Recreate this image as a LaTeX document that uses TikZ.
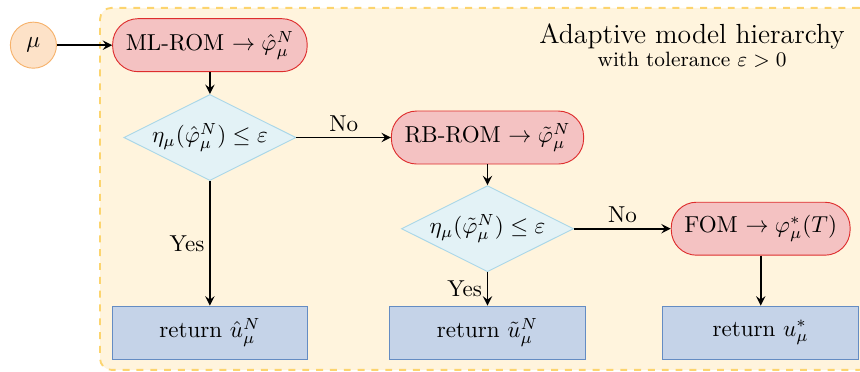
\documentclass[tikz,border=0pt]{standalone}
\usepackage{amsmath,amssymb}
\usepackage{xcolor}
\usepackage{tikz}
\usetikzlibrary{shapes.geometric, arrows, positioning, calc, fit, backgrounds}
\definecolor{inputorange}{RGB}{246, 178, 107}
\definecolor{inputfill}{RGB}{253, 226, 200}
\definecolor{romred}{RGB}{222, 45, 45}
\definecolor{romfill}{RGB}{244, 194, 194}
\definecolor{checkblue}{RGB}{170, 215, 232}
\definecolor{checkfill}{RGB}{227, 242, 246}
\definecolor{outblue}{RGB}{100, 140, 195}
\definecolor{outfill}{RGB}{197, 211, 232}
\definecolor{hierborder}{RGB}{252, 212, 110}
\definecolor{hierfill}{RGB}{255, 244, 221}

\begin{document}
\begin{tikzpicture}[
    input/.style={circle, draw=inputorange, fill=inputfill, minimum size=20pt, inner sep=0pt},
    rom/.style={rectangle, draw=romred, fill=romfill, rounded corners=11pt, align=center, inner xsep=5.7pt, minimum height=23pt},
    decision/.style={diamond, draw=checkblue, fill=checkfill, aspect=2, align=center, inner sep=0pt},
    result/.style={rectangle, draw=outblue, fill=outfill, align=center, minimum width=85pt, minimum height=23pt},
    hierbox/.style={rectangle, draw=hierborder, fill=hierfill, thick, dashed, rounded corners=5pt},
    flow/.style={draw, -stealth, thick}
]

\node [rom] (mlrom) {ML-ROM $\to \hat{\varphi}_\mu^N$};
\node [input, left=24pt of mlrom] (mu) {$\mu$};
\node [decision, below=9.5pt of mlrom] (check1) {$\eta_\mu(\hat{\varphi}_\mu^N) \le \varepsilon$};
\node [rom, right=41pt of check1] (rbrom) {RB-ROM $\to \tilde{\varphi}_\mu^N$};
\node [decision, below=9pt of rbrom] (check2) {$\eta_\mu(\tilde{\varphi}_\mu^N) \le \varepsilon$};
\node [rom, right=42pt of check2] (fom) {FOM $\to \varphi_\mu^*(T)$};
\node [result, below=14.5pt of check2] (ret2) {return $\tilde{u}_\mu^N$};
\node [result] (ret1) at (check1 |- ret2) {return $\hat{u}_\mu^N$};
\node [result] (ret3) at (fom |- ret2) {return $u_\mu^*$};

% title of the hierarchy box
\node [anchor=north east, align=center, font=\small, shift={(-2.7pt,1pt)}] (title) at (ret3.east |- mlrom.north)
    {{\large Adaptive model hierarchy}\\[-1pt] with tolerance $\varepsilon > 0$};

\begin{scope}[on background layer]
\node [hierbox, fit=(mlrom)(ret1)(ret3), inner xsep=5pt, inner ysep=4.5pt] (hier) {};
\end{scope}

\path [flow] (mu) -- (mlrom);
\path [flow] (mlrom) -- (check1);
\path [flow] (check1) -- node[above, inner sep=2pt]{No} (rbrom);
\path [flow] (check1) -- node[left, inner sep=2pt]{Yes} (ret1);
\path [flow] (rbrom) -- (check2);
\path [flow] (check2) -- node[above, inner sep=2pt]{No} (fom);
\path [flow] (check2) -- node[left, inner sep=2pt]{Yes} (ret2);
\path [flow] (fom) -- (ret3);

\pgfresetboundingbox
\path [use as bounding box] ($(mu.west |- hier.north)+(-4.3pt,3pt)$) rectangle ($(ret3.east |- hier.south)+(0.4pt,-0.5pt)$);

\end{tikzpicture}
\end{document}
